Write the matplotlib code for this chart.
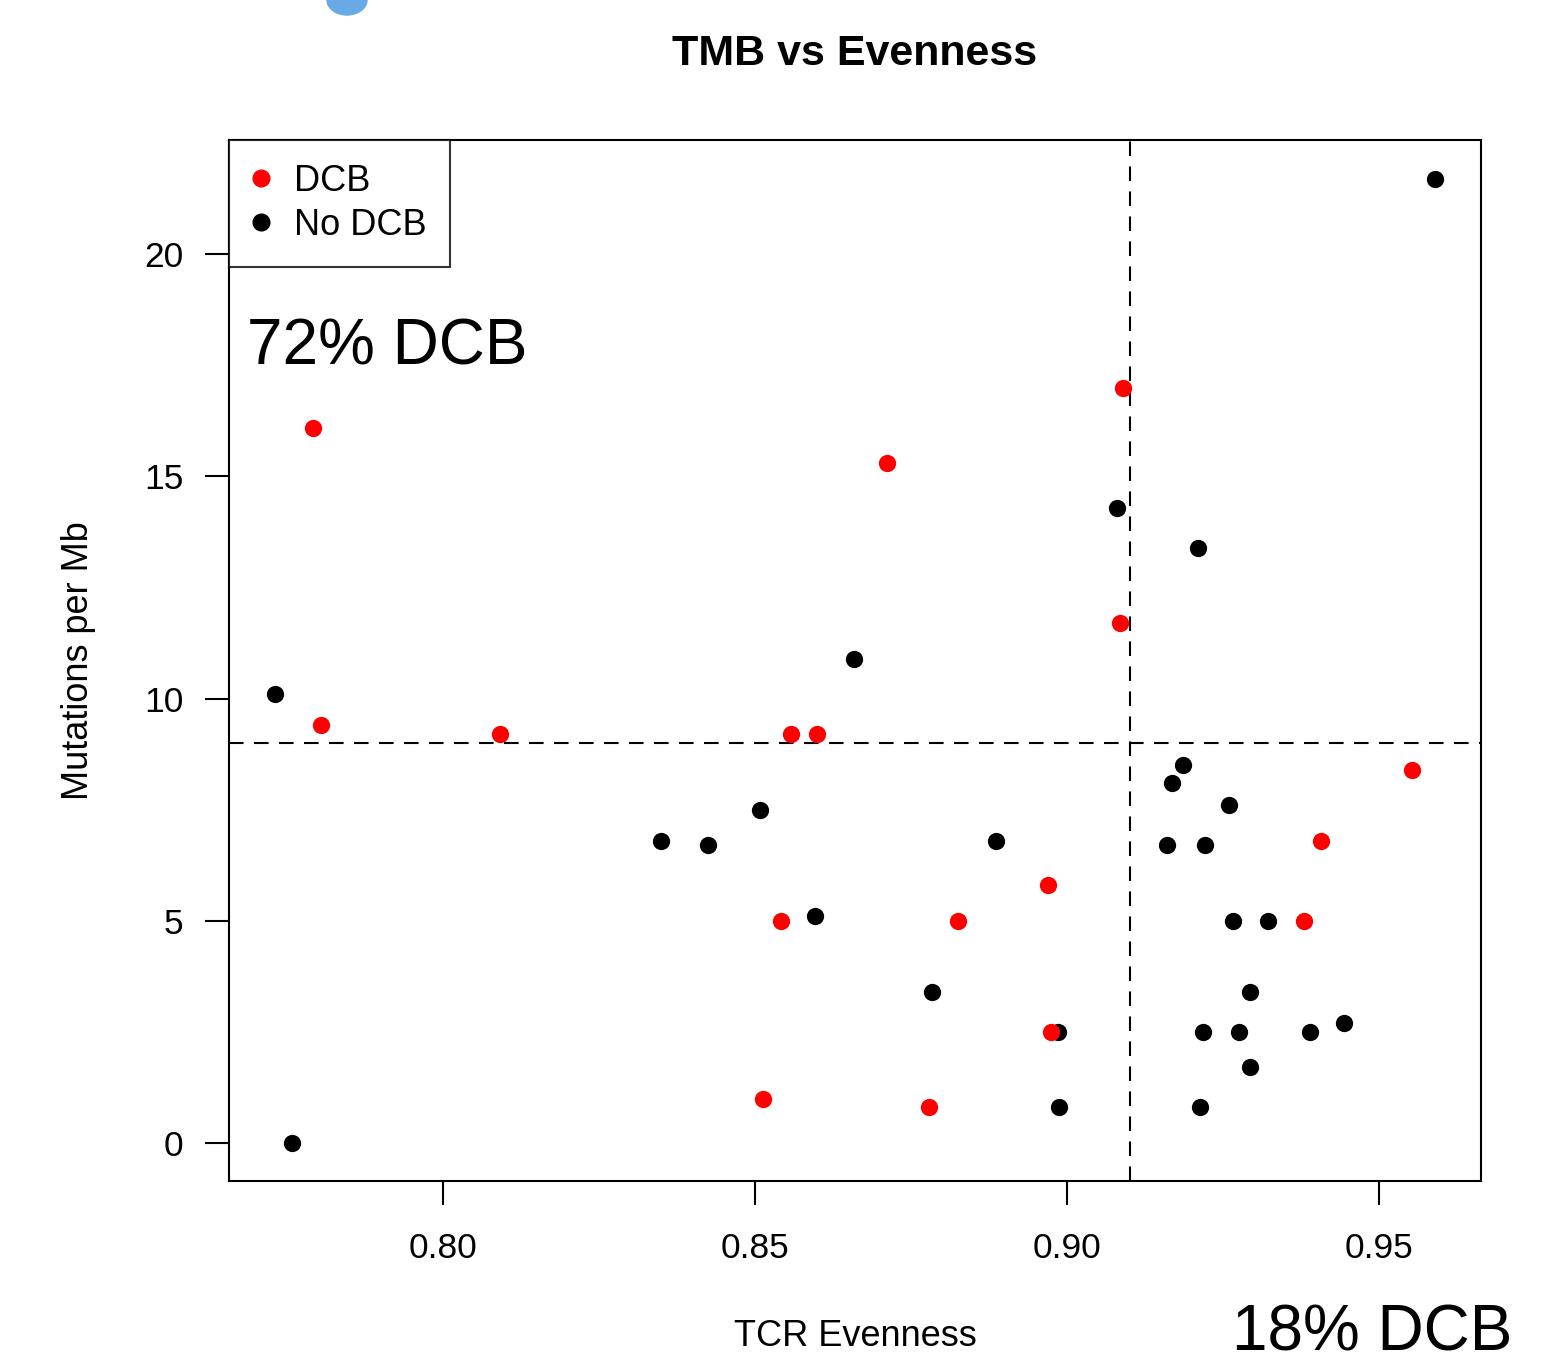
import numpy as np
import matplotlib.pyplot as plt
from matplotlib.patches import Ellipse

plt.rcParams['font.family'] = ['Liberation Sans', 'DejaVu Sans']

# DCB patients (red)
dcb_even = [0.7792, 0.7804, 0.8091, 0.8712, 0.9090, 0.9085, 0.8558, 0.8599, 0.8542,
            0.8825, 0.8970, 0.8974, 0.8513, 0.8779, 0.9553, 0.9407, 0.9380]
dcb_tmb = [16.1, 9.4, 9.2, 15.3, 17.0, 11.7, 9.2, 9.2, 5.0,
           5.0, 5.8, 2.5, 1.0, 0.8, 8.4, 6.8, 5.0]

# no DCB (black)
nodcb_even = [0.9590, 0.7731, 0.7758, 0.8659, 0.9079, 0.9210, 0.8349, 0.8425, 0.8508,
              0.8596, 0.8886, 0.8784, 0.8986, 0.8987, 0.9186, 0.9168, 0.9260, 0.9160,
              0.9220, 0.9266, 0.9321, 0.9293, 0.9218, 0.9276, 0.9389, 0.9444, 0.9293, 0.9213]
nodcb_tmb = [21.7, 10.1, 0.0, 10.9, 14.3, 13.4, 6.8, 6.7, 7.5,
             5.1, 6.8, 3.4, 2.5, 0.8, 8.5, 8.1, 7.6, 6.7,
             6.7, 5.0, 5.0, 3.4, 2.5, 2.5, 2.5, 2.7, 1.7, 0.8]

even_cut = 0.91
tmb_cut = 9

fig = plt.figure(figsize=(15.68, 13.64), dpi=100)
ax = fig.add_axes([229/1568, 1 - 1181/1364, (1481-229)/1568, (1181-140)/1364])

ax.scatter(nodcb_even, nodcb_tmb, s=155, color='black', linewidths=0, zorder=3)
ax.scatter(dcb_even, dcb_tmb, s=155, color='red', linewidths=0, zorder=4)

ax.axvline(even_cut, color='black', lw=1.5, ls=(0, (7, 5)), zorder=2)
ax.axhline(tmb_cut, color='black', lw=1.5, ls=(0, (7, 5)), zorder=2)

ax.set_xlim(0.7657, 0.9663)
ax.set_ylim(-0.855, 22.57)
ax.set_xticks([0.80, 0.85, 0.90, 0.95])
ax.set_xticklabels(['0.80', '0.85', '0.90', '0.95'])
ax.set_yticks([0, 5, 10, 15, 20])
for s in ax.spines.values():
    s.set_linewidth(1.5)
ax.tick_params(axis='x', length=17, width=1.5, pad=20, labelsize=25.5)
ax.tick_params(axis='y', length=17, width=1.5, pad=16, labelsize=25.5)

fig.text(855/1568, 1 - 54/1364, 'TMB vs Evenness', fontsize=31, fontweight='bold',
         ha='center', va='center')
fig.text(855/1568, 1 - 1337/1364, 'TCR Evenness', fontsize=26, ha='center', va='center')
fig.text(78/1568, 1 - 661/1364, 'Mutations per Mb', fontsize=26, ha='center', va='center',
         rotation=90)

ax.text(0.7686, 17.9, '72% DCB', fontsize=46, ha='left', va='center')
ax.text(0.9264, -4.28, '18% DCB', fontsize=46, ha='left', va='center', clip_on=False)

leg = ax.legend(handles=[
    plt.Line2D([], [], marker='o', ls='', color='red', markersize=12),
    plt.Line2D([], [], marker='o', ls='', color='black', markersize=12)],
    labels=['DCB', 'No DCB'], loc='upper left', bbox_to_anchor=(0, 1),
    fontsize=26, frameon=True, fancybox=False, borderaxespad=0,
    handletextpad=0.69, handlelength=0.45,
    borderpad=0.66, labelspacing=0.25)
leg.get_frame().set_edgecolor('black')
leg.get_frame().set_linewidth(1.5)

# blue blob cut off at the top edge
fig.patches.append(Ellipse((347/1568, 1.0), 40/1568, 30/1364, transform=fig.transFigure,
                           color='#6aaae4', figure=fig))

fig.savefig('out.png', dpi=100)
